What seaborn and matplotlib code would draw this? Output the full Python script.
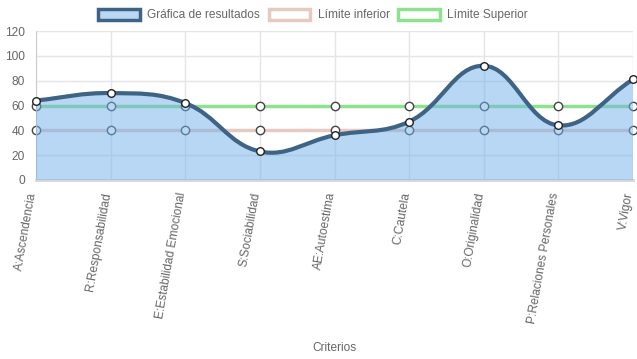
import matplotlib
matplotlib.use("Agg")
import matplotlib.pyplot as plt
import matplotlib.transforms as mtransforms
import numpy as np
import seaborn as sns
from matplotlib.path import Path
from matplotlib.patches import PathPatch, Rectangle

criterios = ["A:Ascendencia", "R:Responsabilidad", "E:Estabilidad Emocional",
             "S:Sociabilidad", "AE:Autoestima", "C:Cautela", "O:Originalidad",
             "P:Relaciones Personales", "V:Vigor"]
resultados = [64, 70, 62, 23, 36, 47, 92, 44, 81]
lim_inf = [40, 40, 40, 40, 40, 40, 40, 40, 40]
lim_sup = [60, 60, 60, 60, 60, 60, 60, 60, 60]
yticks = [0, 20, 40, 60, 80, 100, 120]

sns.set_style("white")
plt.rcParams['font.family'] = ['Liberation Sans', 'DejaVu Sans']

fill_c = (113/255, 177/255, 237/255, 0.5)
line_c = "#3e6384"
inf_c = "#e6c9c0"
sup_c = "#8fe08f"
txt_c = "#666666"
grid_c = "#e5e5e5"

fig = plt.figure(figsize=(6.37, 3.59), dpi=100)
ax = fig.add_axes([36/637, (359-180)/359, (633-36)/637, (180-31)/359])

x = np.arange(len(criterios))
ax.set_xlim(0, len(criterios) - 1)
ax.set_ylim(0, 120)

# grid
for xi in x:
    ax.axvline(xi, color=grid_c, lw=1, zorder=0)
for yi in yticks[1:]:
    ax.axhline(yi, color=grid_c, lw=1, zorder=0)

# limit lines (under the fill)
sns.lineplot(x=x, y=lim_inf, ax=ax, color=inf_c, lw=2.5, zorder=2,
             marker="o", markersize=6, markerfacecolor="white",
             markeredgecolor="#444444", markeredgewidth=1, clip_on=False)
sns.lineplot(x=x, y=lim_sup, ax=ax, color=sup_c, lw=2.5, zorder=2,
             marker="o", markersize=6, markerfacecolor="white",
             markeredgecolor="#444444", markeredgewidth=1, clip_on=False)

# chart.js style spline (tension 0.4), computed in pixel-ish space
sx, sy = 74.6, 149/120
px = x * sx
py = np.array(resultados) * sy
t = 0.4
n = len(px)
cp_prev = []
cp_next = []
for i in range(n):
    p0 = (px[max(i-1, 0)], py[max(i-1, 0)])
    p1 = (px[i], py[i])
    p2 = (px[min(i+1, n-1)], py[min(i+1, n-1)])
    d01 = np.hypot(p1[0]-p0[0], p1[1]-p0[1])
    d12 = np.hypot(p2[0]-p1[0], p2[1]-p1[1])
    s01 = d01 / (d01 + d12) if d01 + d12 else 0
    s12 = d12 / (d01 + d12) if d01 + d12 else 0
    fa, fb = t*s01, t*s12
    cp_prev.append((p1[0] - fa*(p2[0]-p0[0]), p1[1] - fa*(p2[1]-p0[1])))
    cp_next.append((p1[0] + fb*(p2[0]-p0[0]), p1[1] + fb*(p2[1]-p0[1])))

verts = [(px[0]/sx, py[0]/sy)]
codes = [Path.MOVETO]
for i in range(n-1):
    verts += [(cp_next[i][0]/sx, cp_next[i][1]/sy),
              (cp_prev[i+1][0]/sx, cp_prev[i+1][1]/sy),
              (px[i+1]/sx, py[i+1]/sy)]
    codes += [Path.CURVE4]*3

fill_verts = verts + [(x[-1], 0), (x[0], 0), (x[0], resultados[0])]
fill_codes = codes + [Path.LINETO, Path.LINETO, Path.CLOSEPOLY]
ax.add_patch(PathPatch(Path(fill_verts, fill_codes), facecolor=fill_c,
                       edgecolor="none", zorder=3))
ax.add_patch(PathPatch(Path(verts, codes), facecolor="none",
                       edgecolor=line_c, lw=3, zorder=4, capstyle="round"))
sns.scatterplot(x=x, y=resultados, ax=ax, s=30, color="white",
                edgecolor="#222222", linewidth=1, zorder=5, clip_on=False)

# axes styling
for s in ["top", "right"]:
    ax.spines[s].set_visible(False)
ax.spines["left"].set_color("#cccccc")
ax.spines["bottom"].set_color("#d6d6d6")
ax.spines["bottom"].set_linewidth(2)
ax.set_yticks(yticks)
ax.set_xticks(x)
ax.set_xticklabels(criterios, rotation=80, ha="right", va="center",
                   rotation_mode="anchor")
ax.tick_params(axis="both", colors=txt_c, labelsize=8.6, length=6,
               width=1, color=grid_c, pad=2)
ax.tick_params(axis="x", pad=3)
shift = mtransforms.ScaledTranslation(-3/100, 0, fig.dpi_scale_trans)
for lab in ax.get_xticklabels():
    lab.set_transform(lab.get_transform() + shift)
ax.set_xlabel("Criterios", color=txt_c, fontsize=8.6)
ax.xaxis.set_label_coords(0.5, -1.09)
ax.set_ylabel("")

handles = [Rectangle((0, 0), 1, 1, facecolor=(184/255, 216/255, 246/255),
                     edgecolor=line_c, lw=2.5),
           Rectangle((0, 0), 1, 1, facecolor="white", edgecolor=inf_c, lw=2.5),
           Rectangle((0, 0), 1, 1, facecolor="white", edgecolor=sup_c, lw=2.5)]
fig.legend(handles, ["Gráfica de resultados", "Límite inferior", "Límite Superior"],
           loc="center", bbox_to_anchor=(313/637, 1 - 15/359), ncol=3,
           frameon=False, fontsize=8.6, labelcolor=txt_c, handlelength=3.5,
           handleheight=1.1, handletextpad=0.6, columnspacing=0.7)

fig.savefig("out.png", dpi=100)
